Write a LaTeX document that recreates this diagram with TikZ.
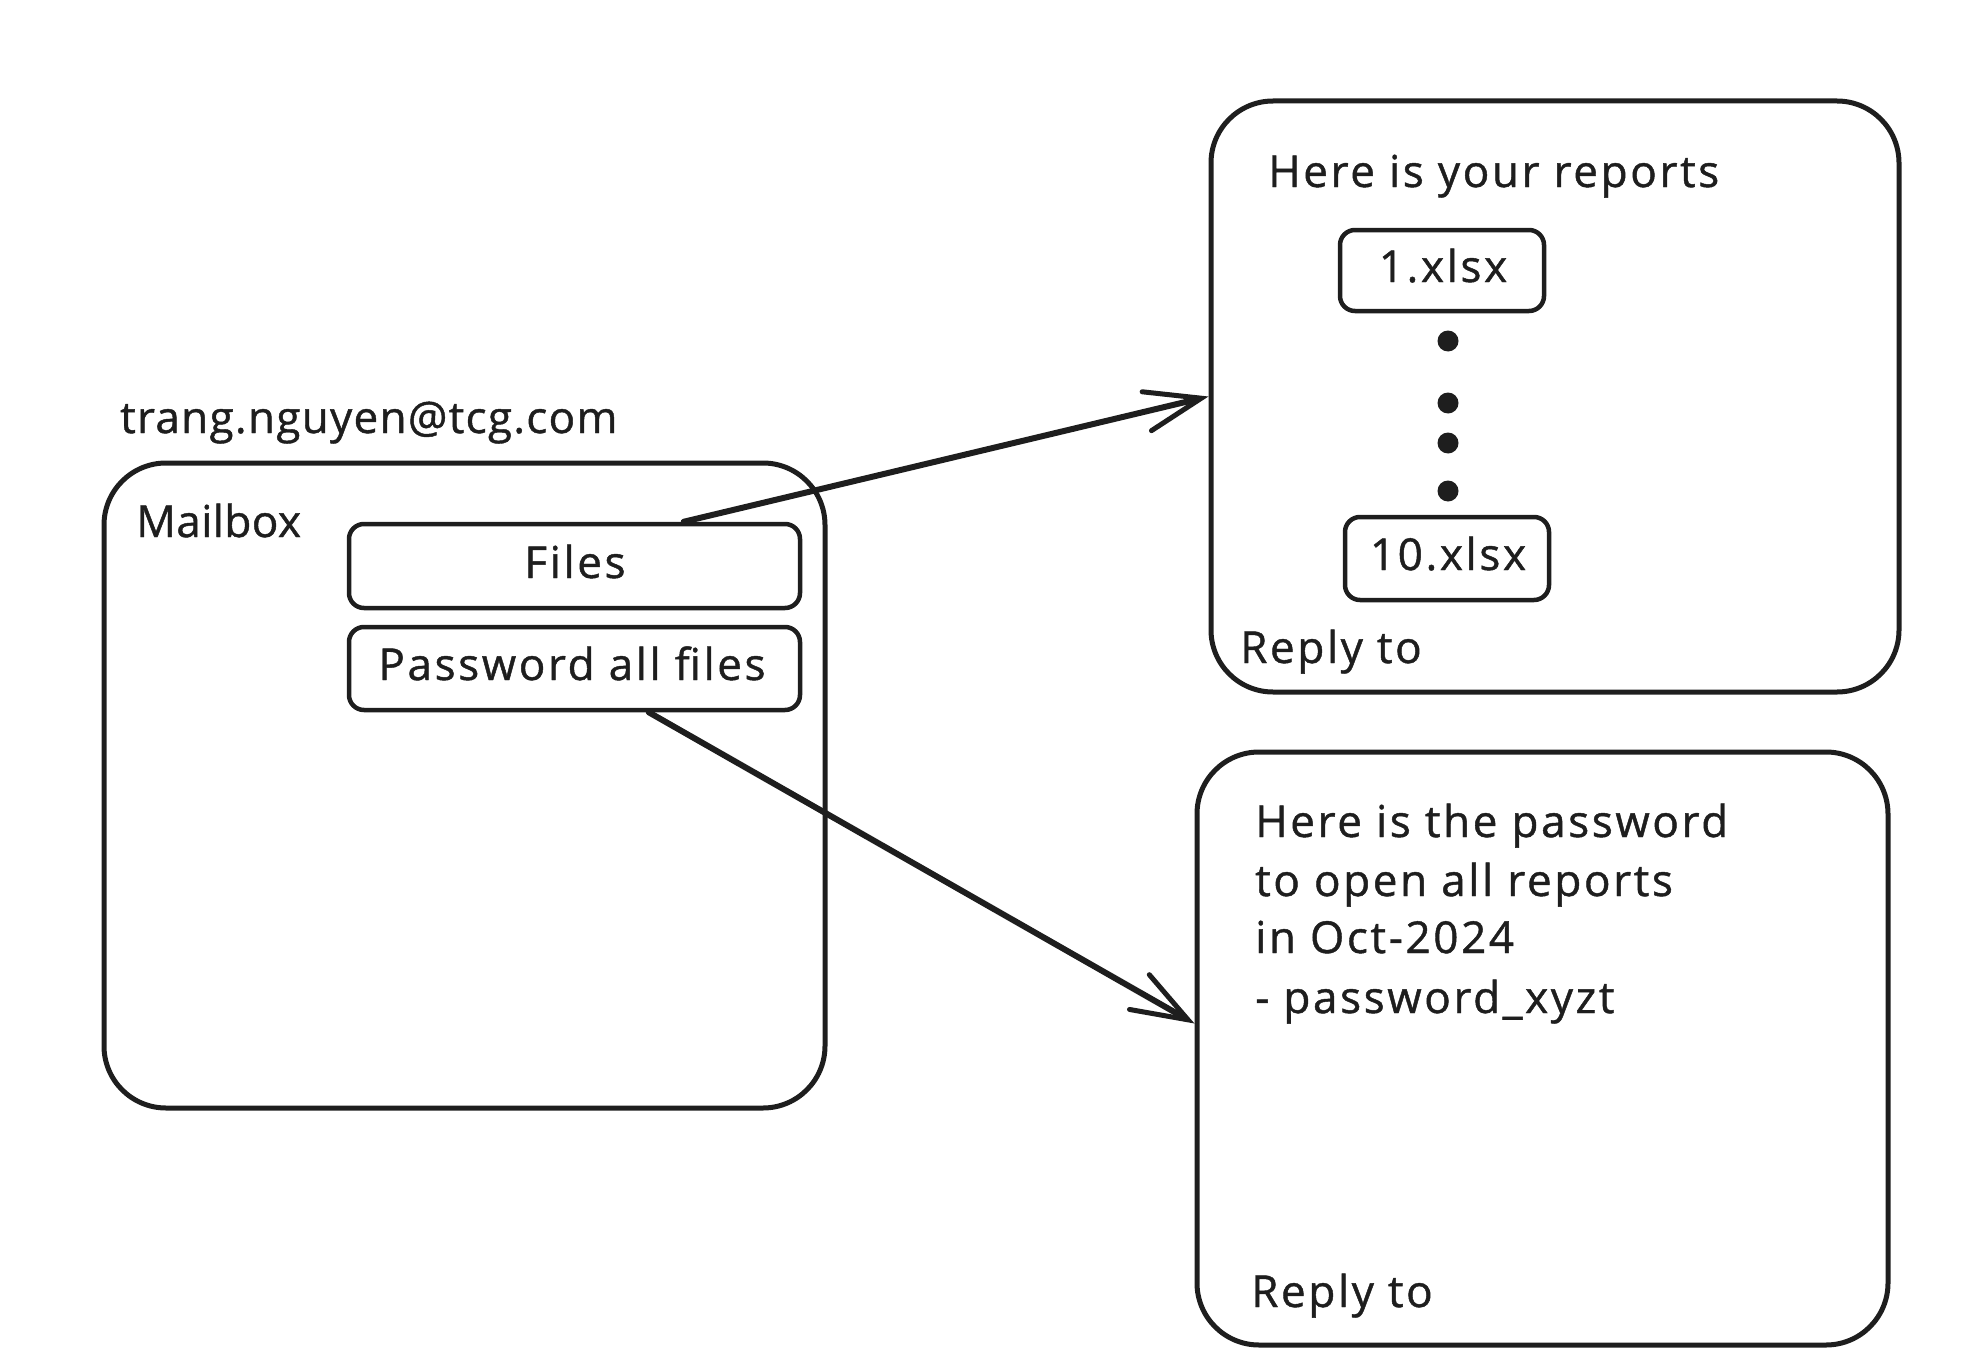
\documentclass[tikz,border=0pt]{standalone}
\usepackage{fontspec}
\setmainfont{Open Sans}[LetterSpace=6,FakeBold=1]
\usetikzlibrary{arrows.meta,calc}
\definecolor{ink}{HTML}{1E1E1E}
\begin{document}
\begin{tikzpicture}[x=1pt,y=-1pt,
  every node/.style={text=ink},
  bigbox/.style={draw=ink,line width=5pt,rounded corners=62pt,inner sep=0pt},
  smallbox/.style={draw=ink,line width=4.5pt,rounded corners=15pt,inner sep=0pt},
  txt/.style={inner sep=0pt,anchor=base west,font=\fontsize{44}{52}\selectfont},
  ctxt/.style={inner sep=0pt,anchor=base,font=\fontsize{44}{52}\selectfont},
  conn/.style={draw=ink,line width=6pt,line cap=round,
     -{Straight Barb[length=56pt,width=40pt,line width=5pt,line cap=round]}},
  dotmark/.style={circle,fill=ink,inner sep=0pt,minimum size=21pt}
]
\useasboundingbox (0,0) rectangle (1974,1362);
% mailbox
\node[bigbox,minimum width=721pt,minimum height=645pt] (mailbox) at (464.5,785.5) {};
\node[txt] (addr) at (120,433) {\addfontfeatures{LetterSpace=3}trang.nguyen@tcg.com};
\node[txt] (mbl) at (136,537) {\addfontfeatures{LetterSpace=1}Mailbox};
\node[smallbox,minimum width=451pt,minimum height=84pt] (files) at (574.5,566) {};
\node[ctxt] (filest) at (575,578) {Files};
\node[smallbox,minimum width=451pt,minimum height=83pt] (pwd) at (574.5,668.5) {};
\node[ctxt] (pwdt) at (572,680) {Password all files};
% reports email
\node[bigbox,minimum width=688pt,minimum height=591pt] (reports) at (1555,396.5) {};
\node[txt] (rh) at (1268,187) {Here is your reports};
\node[smallbox,minimum width=204pt,minimum height=81pt] (x1) at (1442,270.5) {};
\node[ctxt] (x1t) at (1443,282) {1.xlsx};
\node[dotmark] (d1) at (1448,341) {};
\node[dotmark] (d2) at (1448,403) {};
\node[dotmark] (d3) at (1448,443) {};
\node[dotmark] (d4) at (1448,491) {};
\node[smallbox,minimum width=204pt,minimum height=83pt] (x10) at (1447,558.5) {};
\node[ctxt] (x10t) at (1448,570) {10.xlsx};
\node[txt] (r1) at (1240,663) {Reply to};
% password email
\node[bigbox,minimum width=691pt,minimum height=593pt] (pmail) at (1542.5,1048.5) {};
\node[txt] (p1) at (1255,837) {Here is the password};
\node[txt] (p2) at (1255,896) {to open all reports};
\node[txt] (p3) at (1255,953) {in Oct-2024};
\node[txt] (p4) at (1255,1013) {- password\_xyzt};
\node[txt] (r2) at (1251,1307) {Reply to};
% connectors
\draw[conn] ([xshift=337pt]files.north west) -- (reports.west);
\draw[conn] ([xshift=302pt]pwd.south west) -- ([yshift=25pt]pmail.west);
\end{tikzpicture}
\end{document}
